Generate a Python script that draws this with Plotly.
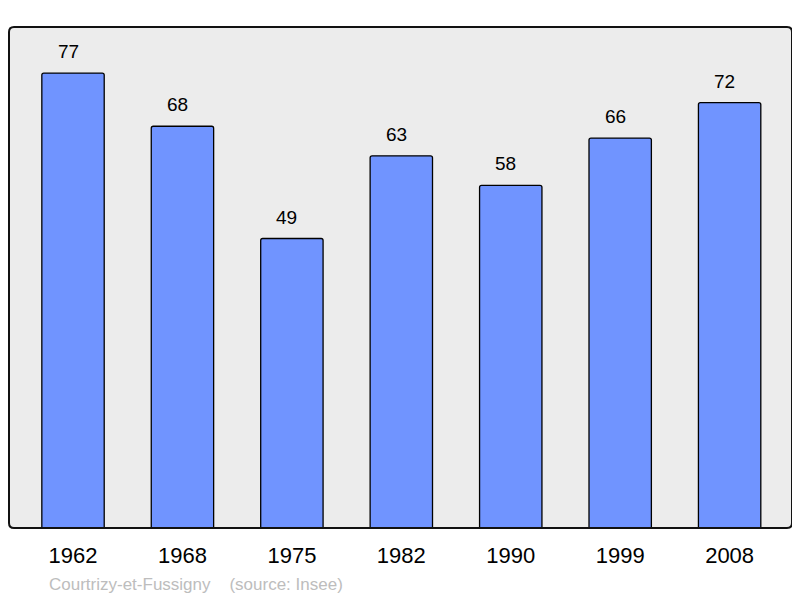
import plotly.graph_objects as go

years = ["1962", "1968", "1975", "1982", "1990", "1999", "2008"]
population = [77, 68, 49, 63, 58, 66, 72]
source_text = "Courtrizy-et-Fussigny    (source: Insee)"

# the page body adds an 8px offset; size the figure to compensate
OFF = 8
W, H = 800 - OFF, 598 - OFF
L, R, T, B = 9 - OFF, 8, 27 - OFF, 70
pw, ph = W - L - R, H - T - B

fig = go.Figure()
fig.add_trace(go.Bar(
    x=list(range(len(years))), y=population,
    width=0.57,
    marker=dict(color="#7094ff", line=dict(color="#000000", width=1.3), cornerradius=2),
    hoverinfo="skip",
))

for i, v in enumerate(population):
    fig.add_annotation(x=i, y=v, text=str(v), showarrow=False, yanchor="bottom",
                       yshift=9, xshift=-5, font=dict(size=19, color="#000000",
                                                      family="Liberation Sans, Arial, sans-serif"))

fig.add_annotation(xref="paper", yref="paper", x=(47 - 9) / pw, y=-(584 - 528) / ph,
                   xanchor="left", yanchor="middle", text=source_text, showarrow=False,
                   font=dict(size=17, color="#bdbdbd", family="Liberation Sans, Arial, sans-serif"))

# rounded border
rx, ry = 5 / pw, 5 / ph
path = (f"M {rx},0 L {1-rx},0 Q 1,0 1,{ry} L 1,{1-ry} Q 1,1 {1-rx},1 "
        f"L {rx},1 Q 0,1 0,{1-ry} L 0,{ry} Q 0,0 {rx},0 Z")
fig.add_shape(type="path", xref="paper", yref="paper", path=path,
              line=dict(color="#111111", width=2), layer="above")

fig.update_layout(
    width=W, height=H,
    margin=dict(l=L, r=R, t=T, b=B),
    paper_bgcolor="#ffffff", plot_bgcolor="#ececec",
    showlegend=False,
    xaxis=dict(range=[-0.585, 6.57], tickmode="array", tickvals=list(range(len(years))),
               ticktext=years, showgrid=False, zeroline=False,
               ticks="outside", ticklen=8, tickcolor="rgba(0,0,0,0)",
               tickfont=dict(size=22, color="#000000", family="Liberation Sans, Arial, sans-serif")),
    yaxis=dict(range=[0, 84.8], showgrid=False, zeroline=False, showticklabels=False),
)

fig.write_html("out.html")
